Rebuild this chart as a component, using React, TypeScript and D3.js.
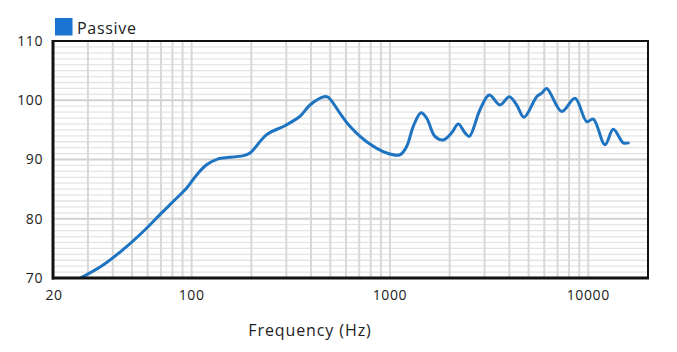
import React from "react";
import * as d3 from "d3";

const seriesName = "Passive";
const freqs = [27.5, 35.8, 47, 59.3, 69.2, 82.4, 94.4, 106, 119, 136, 144, 182, 197, 239, 295, 352, 395, 465, 488, 560, 628, 763, 963, 1123, 1214, 1311, 1434, 1531, 1686, 1857, 2047, 2210, 2390, 2512, 2844, 3169, 3588, 3996, 4355, 4741, 5492, 5822, 6170, 7342, 8570, 9818, 10600, 12140, 13370, 15020, 15910];
const levels = [70, 72.2, 75.3, 78.4, 80.7, 83.2, 85.2, 87.4, 89.1, 90.1, 90.25, 90.65, 91.1, 94.2, 95.7, 97.3, 99.2, 100.6, 100.5, 97.8, 95.6, 93.0, 91.1, 90.8, 92.2, 95.6, 97.9, 97.0, 93.9, 93.3, 94.5, 96.0, 94.5, 93.9, 98.4, 100.9, 99.2, 100.6, 99.2, 97.15, 100.6, 101.2, 102.0, 98.1, 100.35, 96.4, 96.8, 92.5, 95.1, 92.8, 92.8];
const yTicks = [70, 80, 90, 100, 110];
const xTicks = [20, 100, 1000, 10000];
const xGrid = [30, 40, 50, 60, 70, 80, 90, 100, 200, 300, 400, 500, 600, 700, 800, 900, 1000, 2000, 3000, 4000, 5000, 6000, 7000, 8000, 9000, 10000];
const xLabel = "Frequency (Hz)";

export default function App() {
  const W = 677, H = 352;
  const L = 53, R = 648, T = 41, B = 278;
  const x = d3.scaleLog().domain([20, 20000]).range([L, R]);
  const y = d3.scaleLinear().domain([70, 110]).range([B, T]);
  const data = freqs.map((f, i) => [f, levels[i]] as [number, number]);
  const line = d3.line<[number, number]>()
    .x(d => x(d[0]))
    .y(d => y(d[1]))
    .curve(d3.curveCatmullRom.alpha(0.5));
  const minor = d3.range(71, 110).filter(v => v % 10 !== 0);
  const font = "'Open Sans', sans-serif";
  return (
    <svg width={W} height={H} style={{ position: "absolute", left: 0, top: 0, background: "#fff" }}>
      <rect x={0} y={0} width={W} height={H} fill="#fff" />
      {minor.map(v => (
        <line key={"m" + v} x1={L} x2={R} y1={y(v)} y2={y(v)} stroke="#e4e4e4" strokeWidth={1.3} />
      ))}
      {xGrid.map(v => (
        <line key={"v" + v} x1={x(v)} x2={x(v)} y1={T} y2={B} stroke="#d8d8d8" strokeWidth={2} />
      ))}
      {[80, 90, 100].map(v => (
        <line key={"M" + v} x1={L} x2={R} y1={y(v)} y2={y(v)} stroke="#d2d2d2" strokeWidth={2.2} />
      ))}
      <clipPath id="clip">
        <rect x={L} y={T} width={R - L} height={B - T} />
      </clipPath>
      <path d={line(data) || ""} fill="none" stroke="#1f74c2" strokeWidth={3} clipPath="url(#clip)" strokeLinejoin="round" strokeLinecap="round" />
      <rect x={L} y={T} width={R - L} height={B - T} fill="none" stroke="#111" strokeWidth={2} />
      <line x1={L} x2={L} y1={T - 1} y2={B + 1.5} stroke="#111" strokeWidth={3} />
      <line x1={L - 1} x2={R + 1} y1={B} y2={B} stroke="#111" strokeWidth={3} />
      {yTicks.map(v => (
        <text key={"yt" + v} x={43} y={y(v)} dy="0.35em" textAnchor="end" fontFamily={font} fontSize={14} letterSpacing={0.6} fill="#222">{v}</text>
      ))}
      {xTicks.map(v => (
        <text key={"xt" + v} x={x(v) + (v === 20 ? 1 : 0)} y={300} textAnchor="middle" fontFamily={font} fontSize={14} letterSpacing={0.6} fill="#222">{v}</text>
      ))}
      <text x={310} y={336} textAnchor="middle" fontFamily={font} fontSize={16} letterSpacing={0.9} fill="#222">{xLabel}</text>
      <rect x={55} y={18} width={17.5} height={17.5} fill="#1a74d2" />
      <text x={77} y={33.5} fontFamily={font} fontSize={16} letterSpacing={0.7} fill="#222">{seriesName}</text>
    </svg>
  );
}
